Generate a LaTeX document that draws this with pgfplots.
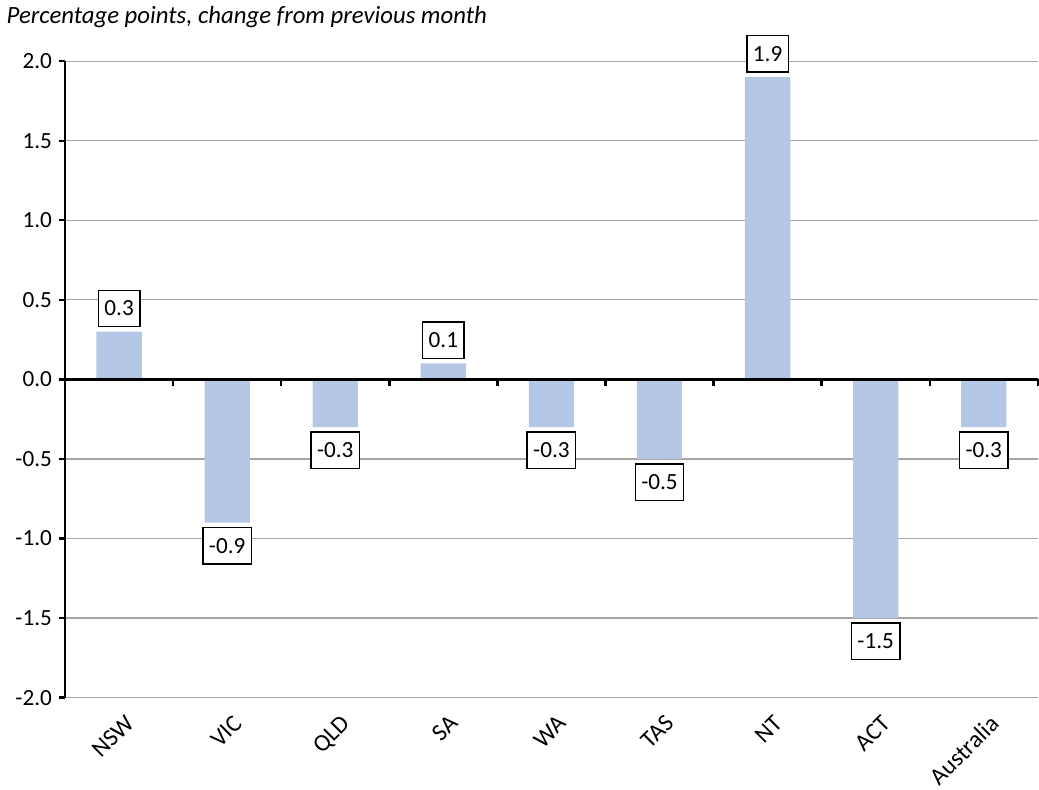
\documentclass[border=0pt]{standalone}
\usepackage{pgfplots}
\pgfplotsset{compat=1.18}
\usepackage{fontspec}
\setmainfont{Carlito}
\definecolor{barblue}{HTML}{B4C7E7}
\definecolor{gridgray}{HTML}{A6A6A6}

\begin{document}
\begin{tikzpicture}[font=\fontsize{11.5}{13}\selectfont]
  \begin{axis}[
      scale only axis,
      width=483pt, height=316pt,
      xmin=-0.5, xmax=8.5,
      ymin=-2, ymax=2,
      ytick={-2,-1.5,...,2},
      xtick={0,...,8},
      xticklabels={NSW,VIC,QLD,SA,WA,TAS,NT,ACT,Australia},
      x tick label style={xshift=2.5pt, yshift=-6.4pt, rotate=45, anchor=north east,
        inner sep=1pt, font=\fontsize{12}{14}\selectfont},
      y tick label style={/pgf/number format/.cd, fixed, fixed zerofill, precision=1},
      /pgf/number format/assume math mode=true,
      axis y line*=left,
      axis x line*=bottom,
      x axis line style={draw=none},
      y axis line style={black, line width=1.2pt, -},
      major x tick style={draw=none},
      ytick style={black, line width=1.2pt},
      ytick align=outside,
      major tick length=3pt,
      ymajorgrids=true,
      grid style={gridgray, line width=0.6pt},
      clip=false,
    ]
    \addplot[ybar, bar width=22.5pt, draw=none, fill=barblue,
      nodes near coords,
      nodes near coords style={draw=black, fill=white, line width=0.7pt,
        inner xsep=3pt, minimum height=18pt, outer sep=2.5pt,
        /pgf/number format/.cd, fixed, fixed zerofill, precision=1}]
      coordinates {
      (0,0.3) (1,-0.9) (2,-0.3) (3,0.1) (4,-0.3) (5,-0.5) (6,1.9) (7,-1.5) (8,-0.3)
    };
    \draw[black, line width=1.2pt] (axis cs:-0.5,0) -- (axis cs:8.5,0);
    \pgfplotsinvokeforeach{0.5,1.5,2.5,3.5,4.5,5.5,6.5,7.5,8.5}{
      \draw[black, line width=1.2pt] (axis cs:#1,0) -- ([yshift=-3.5pt]axis cs:#1,0);
    }
    \node[anchor=base west, font=\fontsize{12.3}{14}\selectfont\itshape]
      at ([xshift=-32.5pt, yshift=18.5pt]rel axis cs:0,1)
      {Percentage points, change from previous month};
  \end{axis}
\end{tikzpicture}
\end{document}
